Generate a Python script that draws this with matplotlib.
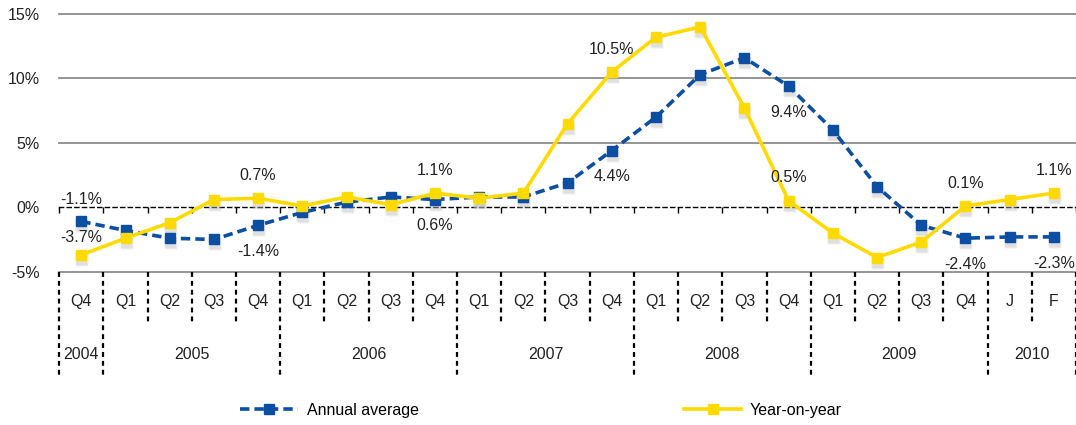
import matplotlib
matplotlib.use('Agg')
import matplotlib.pyplot as plt
import matplotlib.transforms as mtransforms
from matplotlib.lines import Line2D
import numpy as np

plt.rcParams['font.family'] = ['Liberation Sans', 'DejaVu Sans']
plt.rcParams['font.size'] = 11.5

# Data (percent)
quarters = ['Q4', 'Q1', 'Q2', 'Q3', 'Q4', 'Q1', 'Q2', 'Q3', 'Q4', 'Q1', 'Q2', 'Q3',
            'Q4', 'Q1', 'Q2', 'Q3', 'Q4', 'Q1', 'Q2', 'Q3', 'Q4', 'J', 'F']
years = ['2004', '2005', '2006', '2007', '2008', '2009', '2010']
year_counts = [1, 4, 4, 4, 4, 4, 2]

annual_avg = [-1.1, -1.8, -2.4, -2.5, -1.4, -0.4, 0.4, 0.8, 0.6, 0.8, 0.8, 1.9,
              4.4, 7.0, 10.3, 11.6, 9.4, 6.0, 1.6, -1.4, -2.4, -2.3, -2.3]
year_on_year = [-3.7, -2.4, -1.2, 0.6, 0.7, 0.1, 0.8, 0.2, 1.1, 0.7, 1.1, 6.5,
                10.5, 13.2, 14.0, 7.7, 0.5, -2.0, -3.9, -2.7, 0.1, 0.6, 1.1]

# which points carry a value label
annual_labels = [0, 4, 8, 12, 16, 20, 22]
annual_label_side = ['above', 'below', 'below', 'below', 'below', 'below', 'below']
yoy_labels = [0, 4, 8, 12, 16, 20, 22]

yticks = [-5, 0, 5, 10, 15]

blue = '#0B4EA2'
yellow = '#FFDA00'
text_col = '#222222'
fs = 11.5

fig = plt.figure(figsize=(10.76, 4.25), dpi=100)
ax = fig.add_axes([59.2 / 1076, (425 - 271.7) / 425, 1016.8 / 1076, 257.7 / 425])

x = np.arange(len(quarters))
ax.set_xlim(-0.5, len(quarters) - 0.5)
ax.set_ylim(-5, 15)

# gridlines
for v in yticks:
    if v != 0:
        ax.axhline(v, color='#8c8c8c', lw=1.3, zorder=0, clip_on=False)

# zero axis as dashed black spine with small ticks at category bounds
for s in ['top', 'right', 'left']:
    ax.spines[s].set_visible(False)
ax.spines['bottom'].set_position(('data', 0))
ax.spines['bottom'].set_linestyle((0, (3, 2.5)))
ax.spines['bottom'].set_linewidth(1.0)
ax.spines['bottom'].set_zorder(1)
ax.set_xticks(np.arange(len(quarters) + 1) - 0.5)
ax.set_xticklabels([])
ax.tick_params(axis='x', direction='out', length=4, width=1.0, color='black')

ax.set_yticks(yticks)
ax.set_yticklabels([f'{v}%' for v in yticks])
ax.tick_params(axis='y', length=0, pad=14, labelsize=fs, labelcolor=text_col)

# marker shadows
for series in [annual_avg, year_on_year]:
    for dx, dy, a in [(0, -4, 0.3), (1, -5, 0.2)]:
        tr = mtransforms.offset_copy(ax.transData, fig=fig, x=dx, y=dy, units='dots')
        ax.plot(x, series, ls='none', marker='s', ms=8.5, color='#b8b8b8',
                alpha=a, mec='none', transform=tr, zorder=2)

ax.plot(x, annual_avg, color=blue, lw=2.6, ls=(0, (2.6, 1.4)), marker='s', ms=7,
        mec=blue, zorder=3)
ax.plot(x, year_on_year, color=yellow, lw=2.6, marker='s', ms=7, mec=yellow, zorder=4)

# value labels
for i, side in zip(annual_labels, annual_label_side):
    off = 16 if side == 'above' else -19
    ax.annotate(f'{annual_avg[i]:.1f}%', (x[i], annual_avg[i]), xytext=(0, off),
                textcoords='offset points', ha='center', va='center', fontsize=fs,
                color=text_col, zorder=5)
for i in yoy_labels:
    off = 12.5 if i == 0 else 16.5
    ax.annotate(f'{year_on_year[i]:.1f}%', (x[i], year_on_year[i]), xytext=(0, off),
                textcoords='offset points', ha='center', va='center', fontsize=fs,
                color=text_col, zorder=5)

# category axis below the plot
trans = ax.get_xaxis_transform()
q_bottom, y_bottom = -0.203, -0.412
year_starts = np.cumsum([0] + year_counts)
for b in range(len(quarters) + 1):
    low = y_bottom if b in year_starts else q_bottom
    ax.plot([b - 0.5, b - 0.5], [0, low], transform=trans, color='black', lw=1.6,
            ls=(0, (2.2, 1.8)), clip_on=False)
for i, q in enumerate(quarters):
    ax.text(x[i], -0.117, q, transform=trans, ha='center', va='center',
            fontsize=fs, color=text_col)
for k, yr in enumerate(years):
    mid = (year_starts[k] + year_starts[k + 1] - 1) / 2
    ax.text(mid, -0.323, yr, transform=trans, ha='center', va='center',
            fontsize=fs, color=text_col)

handles = [
    Line2D([], [], color=blue, lw=2.6, ls=(0, (2.6, 1.4)), marker='s', ms=7),
    Line2D([], [], color=yellow, lw=2.6, marker='s', ms=7),
]
fig.legend(handles, ['Annual average', 'Year-on-year'], loc='center',
           bbox_to_anchor=(0.503, 0.035), ncol=2, frameon=False, fontsize=fs,
           handlelength=3.6, handletextpad=0.55, columnspacing=16.6)

fig.savefig('out.png', dpi=100)
